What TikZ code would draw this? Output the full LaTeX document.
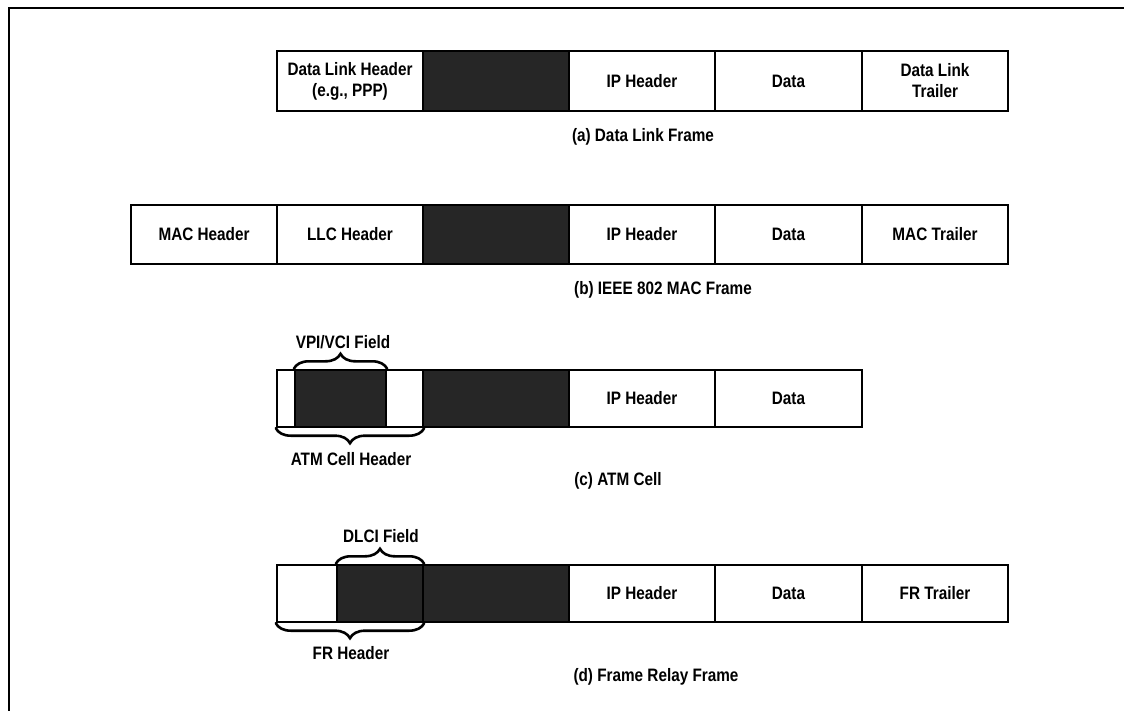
\documentclass[tikz,border=0pt]{standalone}
\usepackage{fontspec}
\newfontfamily\lbl[FakeStretch=0.85]{Liberation Sans}
\usetikzlibrary{decorations.pathreplacing}
\definecolor{darkcell}{RGB}{38,38,38}
\tikzset{
  cell/.style={draw=black, line width=2.4pt, fill=white, inner sep=0pt, minimum height=#1,
    font=\lbl\bfseries\fontsize{18}{21}\selectfont, align=center, text=black},
  dcell/.style={cell=#1, fill=darkcell},
  captext/.style={font=\lbl\bfseries\fontsize{18}{21}\selectfont, inner sep=0pt},
  brc/.style={decorate, decoration={brace, amplitude=15pt}, line width=2.6pt, line cap=round},
  brcm/.style={decorate, decoration={brace, amplitude=15pt, mirror}, line width=2.6pt, line cap=round},
}
\begin{document}
\begin{tikzpicture}[x=1pt, y=-1pt]
\useasboundingbox (0,0) rectangle (1124,711);
% outer frame (open to the right and bottom)
\draw[line width=2pt] (9,711) -- (9,8) -- (1124,8);

% (a) Data Link Frame
\node[cell=60pt, minimum width=146pt] (a1) at (350,81) {Data Link Header\\(e.g., PPP)};
\node[dcell=60pt, minimum width=146pt] (a2) at (496,81) {};
\node[cell=60pt, minimum width=146pt] (a3) at (642,81) {IP Header};
\node[cell=60pt, minimum width=147pt] (a4) at (788.5,81) {Data};
\node[cell=60pt, minimum width=146pt] (a5) at (935,81) {Data Link\\Trailer};
\node[captext] (acap) at (643,137) {(a) Data Link Frame};

% (b) IEEE 802 MAC Frame
\node[cell=59pt, minimum width=146pt] (b0) at (204,234.5) {MAC Header};
\node[cell=59pt, minimum width=146pt] (b1) at (350,234.5) {LLC Header};
\node[dcell=59pt, minimum width=146pt] (b2) at (496,234.5) {};
\node[cell=59pt, minimum width=146pt] (b3) at (642,234.5) {IP Header};
\node[cell=59pt, minimum width=147pt] (b4) at (788.5,234.5) {Data};
\node[cell=59pt, minimum width=146pt] (b5) at (935,234.5) {MAC Trailer};
\node[captext] (bcap) at (663,290) {(b) IEEE 802 MAC Frame};

% (c) ATM Cell
\node[cell=57pt, minimum width=18pt] (c0) at (286,398.5) {};
\node[dcell=57pt, minimum width=91pt] (c1) at (340.5,398.5) {};
\node[cell=57pt, minimum width=37pt] (c2) at (404.5,398.5) {};
\node[dcell=57pt, minimum width=146pt] (c3) at (496,398.5) {};
\node[cell=57pt, minimum width=146pt] (c4) at (642,398.5) {IP Header};
\node[cell=57pt, minimum width=147pt] (c5) at (788.5,398.5) {Data};
\draw[brc] (c1.north west) -- (c1.north east);
\node[captext] (cvpi) at (343,342) {VPI/VCI Field};
\draw[brcm] (c0.south west) -- (c2.south east);
\node[captext] (catm) at (351,459) {ATM Cell Header};
\node[captext] (ccap) at (618,481) {(c) ATM Cell};

% (d) Frame Relay Frame
\node[cell=57pt, minimum width=60pt] (d0) at (307,593.5) {};
\node[dcell=57pt, minimum width=86pt] (d1) at (380,593.5) {};
\node[dcell=57pt, minimum width=146pt] (d2) at (496,593.5) {};
\node[cell=57pt, minimum width=146pt] (d3) at (642,593.5) {IP Header};
\node[cell=57pt, minimum width=147pt] (d4) at (788.5,593.5) {Data};
\node[cell=57pt, minimum width=146pt] (d5) at (935,593.5) {FR Trailer};
\draw[brc] (d1.north west) -- (d1.north east);
\node[captext] (ddlci) at (381,536) {DLCI Field};
\draw[brcm] (d0.south west) -- (d1.south east);
\node[captext] (dfr) at (351,653) {FR Header};
\node[captext] (dcap) at (656,677) {(d) Frame Relay Frame};
\end{tikzpicture}
\end{document}
